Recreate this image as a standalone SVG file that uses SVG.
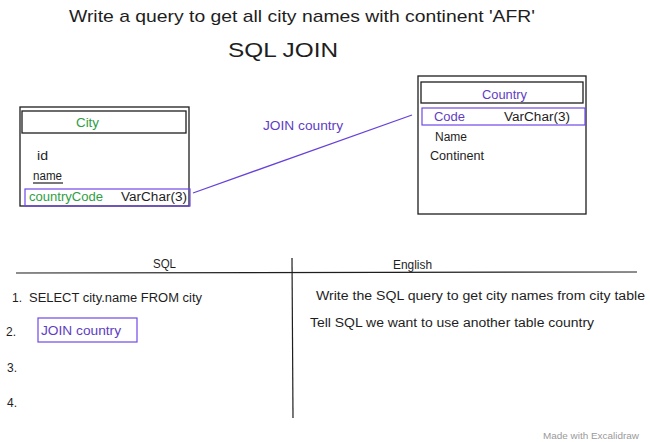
<svg xmlns="http://www.w3.org/2000/svg" width="650" height="442" viewBox="0 0 650 442">
<style>
text{font-family:"Liberation Sans","DejaVu Sans",sans-serif;fill:#1e1e1e}
.g{fill:#2f9e44}
.v{fill:#5f3dc4}
.box{fill:none;stroke:#1e1e1e;stroke-width:1.3}
.hl{fill:none;stroke:#7048e8;stroke-width:1.2}
.rule{stroke:#1e1e1e;stroke-width:1.2;fill:none}
.s13{font-size:12px}
</style>
<rect width="650" height="442" fill="#ffffff"/>
<g id="title">
<text x="69" y="22" font-size="17" textLength="466" lengthAdjust="spacingAndGlyphs">Write a query to get all city names with continent 'AFR'</text>
<text x="228" y="57" font-size="21" textLength="110" lengthAdjust="spacingAndGlyphs">SQL JOIN</text>
</g>
<g id="city">
<rect class="box" x="20" y="107" width="169" height="99"/>
<rect class="box" x="22" y="111" width="164" height="22"/>
<text class="g s13" x="76" y="127" textLength="23" lengthAdjust="spacingAndGlyphs">City</text>
<text class="s13" x="37" y="160" textLength="11" lengthAdjust="spacingAndGlyphs">id</text>
<text class="s13" x="33" y="180" textLength="29" lengthAdjust="spacingAndGlyphs">name</text>
<line class="rule" x1="33" y1="183" x2="63" y2="183"/>
<rect class="hl" x="25" y="189" width="165" height="17"/>
<text class="g s13" x="29" y="201" textLength="74" lengthAdjust="spacingAndGlyphs">countryCode</text>
<text class="s13" x="121" y="201" textLength="66" lengthAdjust="spacingAndGlyphs">VarChar(3)</text>
</g>
<g id="country">
<rect class="box" x="418" y="76" width="168" height="138"/>
<rect class="box" x="421" y="82" width="162" height="21"/>
<text class="v s13" x="482" y="99" textLength="45" lengthAdjust="spacingAndGlyphs">Country</text>
<rect class="hl" x="422" y="108" width="163" height="17"/>
<text class="v s13" x="434" y="121" textLength="31" lengthAdjust="spacingAndGlyphs">Code</text>
<text class="s13" x="504" y="121" textLength="66" lengthAdjust="spacingAndGlyphs">VarChar(3)</text>
<text class="s13" x="435" y="141" textLength="32" lengthAdjust="spacingAndGlyphs">Name</text>
<text class="s13" x="430" y="160" textLength="54" lengthAdjust="spacingAndGlyphs">Continent</text>
</g>
<g id="connectors">
<line x1="193" y1="193" x2="412" y2="115" stroke="#6741d9" stroke-width="1.3"/>
<text class="v s13" x="263" y="130" textLength="80" lengthAdjust="spacingAndGlyphs">JOIN country</text>
</g>
<g id="table">
<line class="rule" x1="16" y1="273" x2="637" y2="272"/>
<line class="rule" x1="292" y1="258" x2="293" y2="418"/>
<text class="s13" x="153" y="268" textLength="23" lengthAdjust="spacingAndGlyphs">SQL</text>
<text class="s13" x="393" y="269" textLength="39" lengthAdjust="spacingAndGlyphs">English</text>
</g>
<g id="sql-steps">
<text class="s13" x="12" y="302">1.</text>
<text class="s13" x="29" y="302" textLength="173" lengthAdjust="spacingAndGlyphs">SELECT city.name FROM city</text>
<text class="s13" x="6" y="336">2.</text>
<rect class="hl" x="38" y="318" width="99" height="24"/>
<text class="v s13" x="41" y="335" textLength="80" lengthAdjust="spacingAndGlyphs">JOIN country</text>
<text class="s13" x="7" y="372">3.</text>
<text class="s13" x="7" y="407">4.</text>
</g>
<g id="english-steps">
<text class="s13" x="316" y="300" textLength="329" lengthAdjust="spacingAndGlyphs">Write the SQL query to get city names from city table</text>
<text class="s13" x="310" y="327" textLength="284" lengthAdjust="spacingAndGlyphs">Tell SQL we want to use another table country</text>
</g>
<text x="543" y="439" font-size="9" fill="#9a9a9a" style="fill:#9a9a9a" textLength="96" lengthAdjust="spacingAndGlyphs">Made with Excalidraw</text>
</svg>
